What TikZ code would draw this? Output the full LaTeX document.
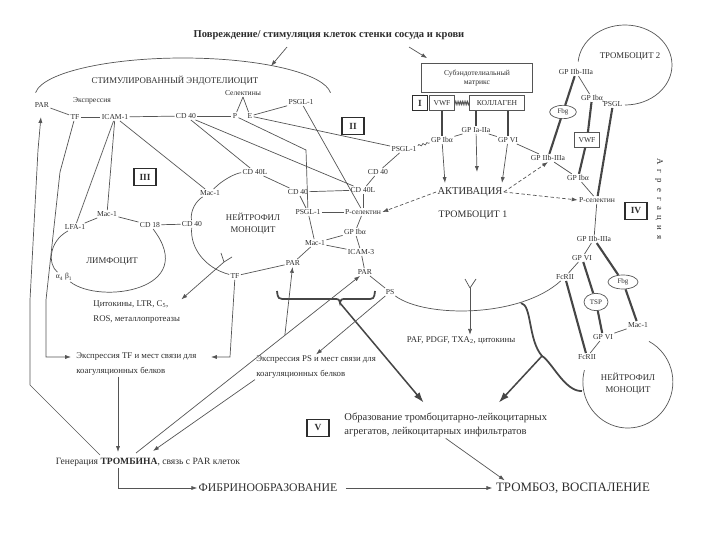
\documentclass[tikz,border=0pt]{standalone}
\usepackage{fontspec}
\setmainfont{Liberation Serif}
\usetikzlibrary{arrows.meta,positioning,shapes.geometric,calc,decorations.pathmorphing}
\definecolor{scink}{RGB}{45,45,45}
\definecolor{scline}{RGB}{85,85,85}
\definecolor{scbar}{RGB}{70,70,70}

\begin{document}
\begin{tikzpicture}[x=0.03cm, y=-0.03cm,
    lbl/.style={inner sep=1pt, text=scink, font=\fontsize{6.5}{7.5}\selectfont},
    note/.style={inner sep=1pt, text=scink, anchor=west, align=left, font=\fontsize{7.5}{12.5}\selectfont},
    cellname/.style={inner sep=1pt, text=scink, align=center, font=\fontsize{7.5}{10}\selectfont},
    result/.style={inner sep=1pt, text=scink, font=\fontsize{10}{12}\selectfont},
    stage/.style={rectangle, draw=scink, line width=1.2pt, minimum width=0.66cm, minimum height=0.52cm,
                  inner sep=0pt, text=scink, font=\fontsize{8}{8}\selectfont\bfseries},
    tagbox/.style={rectangle, draw=scline, semithick, inner sep=1.5pt, text=scink, font=\fontsize{6.5}{7.5}\selectfont},
    oval/.style={ellipse, draw=scline, semithick, inner sep=0pt, text=scink, font=\fontsize{6}{6}\selectfont},
    ln/.style={draw=scline, semithick},
    arr/.style={ln, -{Latex[length=5pt,width=3.5pt]}},
    dotarr/.style={ln, densely dashed, -{Latex[length=5pt,width=3.5pt]}},
    bridge/.style={draw=scbar, line width=1.8pt},
    bracket/.style={draw=scbar, line width=1.5pt},
    thickarr/.style={draw=scbar, line width=1.3pt, -{Latex[length=9pt,width=6pt]}},
    wave/.style={ln, decorate, decoration={snake, amplitude=0.8pt, segment length=3.5pt}}
  ]
    \useasboundingbox (0,0) rectangle (720,540);

    % Damage
    \node[inner sep=1pt, text=scink, font=\fontsize{9}{10}\selectfont\bfseries] (dmg) at (329,35)
         {Повреждение/ стимуляция клеток стенки сосуда и крови};

    % Endothelium
    \draw[ln] (35.6,92.7) arc[start angle=185, end angle=355, x radius=148, y radius=38];
    \coordinate (endotop) at (271,66);
    \node[cellname] (endo)  at (175,81)  {СТИМУЛИРОВАННЫЙ ЭНДОТЕЛИОЦИТ};
    \node[lbl]      (expr)  at (92,101)  {Экспрессия};
    \node[lbl]      (ePAR)  at (42,105)  {PAR};
    \node[lbl]      (eTF)   at (75,117)  {TF};
    \node[lbl]      (eICAM) at (115,117) {ICAM-1};
    \node[lbl]      (eCD40) at (186,116) {CD 40};
    \node[lbl]      (sel)   at (243,93)  {Селектины};
    \node[lbl]      (eP)    at (235,116) {P};
    \node[lbl]      (eE)    at (250,116) {E};
    \node[lbl]      (ePSGL) at (301,102) {PSGL-1};
    \node[stage]    (stII)  at (353,126) {II};

    % Lymphocyte
    \node[lbl]      (lLFA)  at (75,227)  {LFA-1};
    \node[lbl]      (lMac)  at (107,214) {Mac-1};
    \node[lbl]      (lCD18) at (150,225) {CD 18};
    \node[lbl]      (lAB)   at (64,277)  {α\textsubscript{4} β\textsubscript{1}};
    \node[cellname] (lym)   at (112,262) {ЛИМФОЦИТ};
    \node[stage]    (stIII) at (145,177) {III};

    % Neutrophil / monocyte
    \node[cellname] (neu)    at (253,224) {НЕЙТРОФИЛ\\МОНОЦИТ};
    \node[lbl]      (nMacA)  at (210,193) {Mac-1};
    \node[lbl]      (nCD40L) at (255,172) {CD 40L};
    \node[lbl]      (nCD40)  at (298,192) {CD 40};
    \node[lbl]      (nPSGL)  at (308,212) {PSGL-1};
    \node[lbl]      (nMacB)  at (315,243) {Mac-1};
    \node[lbl]      (nPAR)   at (293,263) {PAR};
    \node[lbl]      (nTF)    at (235,276) {TF};
    \node[lbl]      (nCD40w) at (192,224) {CD 40};
    \coordinate     (nY)     at (224,262);

    % Platelet 1
    \node[cellname, font=\fontsize{9}{10}\selectfont]   (act)  at (470,192) {АКТИВАЦИЯ};
    \node[cellname, font=\fontsize{8.5}{10}\selectfont] (plt1) at (473,215) {ТРОМБОЦИТ 1};
    \node[lbl] (pPSGL)  at (404,149) {PSGL-1};
    \node[lbl] (pCD40)  at (378,172) {CD 40};
    \node[lbl] (pCD40L) at (363,190) {CD 40L};
    \node[lbl] (pPsel)  at (363,212) {P-селектин};
    \node[lbl] (pGPIb)  at (355,232) {GP Ibα};
    \node[lbl] (pICAM)  at (361,252) {ICAM-3};
    \node[lbl] (pPAR)   at (365,272) {PAR};
    \node[lbl] (pPS)    at (390,292) {PS};
    \node[lbl] (pGPIbT) at (442,140) {GP Ibα};
    \node[lbl] (pGPIa)  at (476,130) {GP Ia-IIa};
    \node[lbl] (pGPVI)  at (508,140) {GP VI};
    \node[lbl] (pIIbT)  at (548,158) {GP IIb-IIIa};
    \node[lbl] (pGPIbR) at (578,178) {GP Ibα};
    \node[lbl] (pPselR) at (597,200) {P-селектин};
    \node[lbl] (pIIbB)  at (594,239) {GP IIb-IIIa};
    \node[lbl] (pGPVIR) at (582,258) {GP VI};
    \node[lbl] (pFcR)   at (565,277) {FcRII};
    \coordinate (pY) at (470,288);
    \node[stage] (stIV) at (636,211) {IV};
    \node[lbl, rotate=-90, font=\fontsize{7.5}{8}\selectfont] (aggr) at (659,199)
         {\addfontfeatures{LetterSpace=60}Агрегация};

    % Subendothelial matrix
    \node[tagbox, minimum width=3.33cm, minimum height=0.87cm, align=center] (matrix) at (477,78)
         {Субэндотелиальный\\матрикс};
    \node[stage, minimum width=0.45cm, minimum height=0.45cm] (stI) at (420,103) {I};
    \node[tagbox, minimum width=0.75cm, minimum height=0.45cm] (vwf)  at (442,103) {VWF};
    \node[tagbox, minimum width=1.65cm, minimum height=0.45cm] (coll) at (497,103) {КОЛЛАГЕН};

    % Platelet 2
    \draw[ln] (625,105) arc[start angle=90, end angle=-175, x radius=47, y radius=40];
    \node[cellname] (plt2)  at (630,57)  {ТРОМБОЦИТ 2};
    \node[lbl]      (qIIb)  at (576,72)  {GP IIb-IIIa};
    \node[lbl]      (qGPIb) at (592,98)  {GP Ibα};
    \node[lbl]      (qPSGL) at (613,104) {PSGL};
    \node[oval, minimum width=0.8cm, minimum height=0.4cm]     (fbgA) at (563,112) {Fbg};
    \node[tagbox, minimum width=0.75cm, minimum height=0.45cm] (vwfB) at (587,140) {VWF};

    % Neutrophil / monocyte 2
    \draw[ln] (649,341.4) arc[start angle=-62, end angle=195, x radius=45, y radius=46];
    \node[cellname] (neuB)  at (628,384) {НЕЙТРОФИЛ\\МОНОЦИТ};
    \node[lbl]      (mMac)  at (638,325) {Mac-1};
    \node[lbl]      (mGPVI) at (603,337) {GP VI};
    \node[lbl]      (mFcR)  at (587,357) {FcRII};
    \node[oval, minimum width=0.9cm, minimum height=0.42cm]  (fbgB) at (623,282) {Fbg};
    \node[oval, minimum width=0.72cm, minimum height=0.52cm] (tsp)  at (596,302) {TSP};

    % Outcomes
    \node[note] (cyto) at (92,312)  {Цитокины, LTR, C\textsubscript{5},\\ROS, металлопротеазы};
    \node[note] (exTF) at (75,364)  {Экспрессия TF и мест связи для\\коагуляционных белков};
    \node[note] (exPS) at (255,367) {Экспрессия PS и мест связи для\\коагуляционных белков};
    \node[lbl, font=\fontsize{7.5}{8}\selectfont] (paf) at (461,340) {PAF, PDGF, TXA\textsubscript{2}, цитокины};
    \node[stage] (stV) at (318,428) {V};
    \node[note, font=\fontsize{9}{12}\selectfont] (form) at (343,425)
         {Образование тромбоцитарно-лейкоцитарных\\агрегатов, лейкоцитарных инфильтратов};
    \node[lbl, font=\fontsize{8.2}{9}\selectfont] (thr) at (148,462) {Генерация \textbf{ТРОМБИНА}, связь с PAR клеток};
    \node[result] (fib)   at (268,488) {ФИБРИНООБРАЗОВАНИЕ};
    \node[result, font=\fontsize{11}{12}\selectfont] (tromb) at (573,488) {ТРОМБОЗ, ВОСПАЛЕНИЕ};
    \coordinate (thrL) at (100,455);
    \coordinate (thrM) at (118,452);
    \coordinate (thrA) at (136,453);
    \coordinate (thrC) at (153,451);
    \coordinate (tfL)  at (71,357);
    \coordinate (tfR)  at (211,357);

    % Damage arrows
    \draw[arr] ($(dmg.south)+(-42,6)$) -- (endotop);
    \draw[arr] ($(dmg.south)+(80,6)$) -- ($(matrix.north west)+(6,-5)$);

    % Endothelium links
    \draw[ln] (ePAR) -- (eTF);
    \draw[ln] (eTF) -- (eICAM);
    \draw[ln] (eICAM) -- (eCD40);
    \draw[ln] (eCD40) -- (eP);
    \draw[ln] (sel.south) -- (eP);
    \draw[ln] (sel.south) -- (eE);
    \draw[ln] (eE) -- (ePSGL);
    \draw[ln] (eICAM) -- (lLFA);
    \draw[ln] (eICAM) -- (lMac);
    \draw[ln] (eICAM) -- (nMacA);
    \draw[ln] (eCD40) -- (nCD40L);
    \draw[ln] (eCD40) -- (pCD40L);
    \draw[ln] (eP) -- (306,150) -- (nPSGL);
    \draw[ln] (eE) -- (pPSGL);
    \draw[ln] (ePSGL) -- (pPsel);

    % Lymphocyte ring
    \draw[ln] (lLFA) -- (lMac);
    \draw[ln] (lMac) -- (lCD18);
    \draw[ln] (lCD18) -- (nCD40w);
    \draw[ln] (lLFA) .. controls (48,242) and (48,265) .. (lAB);
    \draw[ln] (lAB) .. controls (100,305) and (200,290) .. (lCD18);

    % Neutrophil ring
    \draw[ln] (nMacA) .. controls (222,180) and (236,173) .. (nCD40L);
    \draw[ln] (nCD40L) -- (nCD40);
    \draw[ln] (nCD40) -- (nPSGL);
    \draw[ln] (nPSGL) -- (nMacB);
    \draw[ln] (nMacB) -- (nPAR);
    \draw[ln] (nTF) -- (nPAR);
    \draw[ln] (nTF) .. controls (205,268) and (190,248) .. (nCD40w);
    \draw[ln] (nCD40w) .. controls (190,210) and (197,200) .. (nMacA);
    \draw[ln] (nY) -- (221,253) (nY) -- (232,257);
    \draw[arr] (nY) -- (cyto.north east);

    % Platelet 1 ring
    \draw[wave] (pPSGL) -- (pGPIbT);
    \draw[ln] (pPSGL) -- (pCD40);
    \draw[ln] (pCD40) -- (pCD40L);
    \draw[ln] (pCD40L) -- (pPsel);
    \draw[ln] (pPsel) -- (pGPIb);
    \draw[ln] (pGPIb) -- (pICAM);
    \draw[ln] (pICAM) -- (pPAR);
    \draw[ln] (pPAR) -- (pPS);
    \draw[ln] (pGPIbT) -- (pGPIa);
    \draw[ln] (pGPIa) -- (pGPVI);
    \draw[ln] (pGPVI) -- (pIIbT);
    \draw[ln] (pIIbT) -- (pGPIbR);
    \draw[ln] (pGPIbR) -- (pPselR);
    \draw[ln] (pPselR) -- (pIIbB);
    \draw[ln] (pIIbB) -- (pGPVIR);
    \draw[ln] (pGPVIR) -- (pFcR);
    \draw[ln] (pPS) .. controls (425,318) and (520,318) .. (pFcR);
    \draw[ln] (pY) -- (465,279) (pY) -- (476,279);
    \draw[arr] (pY) -- (pY |- paf.north);

    % Neutrophil - platelet contacts
    \draw[ln] (nCD40) -- (pCD40L);
    \draw[ln] (nPSGL) -- (pPsel);
    \draw[ln] (nMacB) -- (pGPIb);
    \draw[ln] (nMacB) -- (pICAM);

    % Matrix to platelet
    \draw[ln, decorate, decoration={zigzag, amplitude=1.5pt, segment length=1.5pt}] (vwf) -- (coll);
    \draw[bridge] (vwf) -- (pGPIbT);
    \draw[bridge] (coll.south -| pGPIa) -- (pGPIa);
    \draw[bridge] (coll.south -| pGPVI) -- (pGPVI);
    \draw[arr] (pGPIbT) -- ($(act.north)+(-25,-3)$);
    \draw[arr] (pGPIa) -- ($(act.north)+(7,-14)$);
    \draw[arr] (pGPVI) -- ($(act.north)+(32,-3)$);
    \draw[dotarr] (act.west) -- (pPsel.east);
    \draw[dotarr] (act.east) -- (pIIbT.south);
    \draw[dotarr] (act.east) -- (pPselR.west);

    % Aggregation
    \draw[ln] (qIIb) -- (qGPIb);
    \draw[wave] (qGPIb) -- (qPSGL);
    \draw[bridge] (qIIb) -- (fbgA);
    \draw[bridge] (fbgA) -- (pIIbT);
    \draw[bridge] (qGPIb) -- (vwfB);
    \draw[bridge] (vwfB) -- (pGPIbR);
    \draw[bridge] (qPSGL) -- (pPselR);
    \draw[bridge] (pIIbB) -- (fbgB);
    \draw[bridge] (fbgB) -- (mMac);
    \draw[bridge] (pGPVIR) -- (tsp);
    \draw[bridge] (tsp) -- (mGPVI);
    \draw[bridge] (pFcR) -- (mFcR);
    \draw[ln] (mGPVI) -- (mMac);
    \draw[ln] (mGPVI) -- (mFcR);

    % Brackets
    \draw[bracket] (277,291) .. controls (278,299) .. (287,299) -- (333,299)
                   .. controls (339,299) .. (340,303) .. controls (341,299) .. (347,299) -- (366,299)
                   .. controls (374,299) .. (375,291);
    \coordinate (brL) at (340,303);
    \draw[thickarr] (brL) -- ($(form.north)+(-22,-9)$);
    \draw[bracket] (521,303) .. controls (532,305) and (528,340) .. (542,356)
                   .. controls (552,362) and (565,392) .. (582,391);
    \coordinate (brR) at (542,356);
    \draw[thickarr] (brR) -- ($(form.north)+(53,-9)$);

    % Coagulation
    \draw[arr, shorten >=7pt] (thrL) -- (30,385) -- (30,300) -- (38,150) -- (ePAR);
    \draw[arr] (eTF) -- (60,172) -- (46,300) -- (46,357) -- (tfL);
    \draw[arr] (nTF) -- (230,357) -- (tfR);
    \draw[arr] (exTF.south -| thrM) -- (thrM);
    \draw[arr] (thrA) -- (pPAR);
    \draw[arr] ($(thrA)!0.65!(pPAR)$) -- (nPAR);
    \draw[arr] (pPS) -- (exPS.north);
    \draw[arr] (exPS.south west) -- (thrC);
    \draw[arr] (thr.south -| thrM) |- (fib.west);
    \draw[arr, shorten <=6pt, shorten >=2pt] (fib.east) -- (tromb.west);
    \draw[arr] (form.south) -- ($(tromb.north west)+(10,-1)$);
  \end{tikzpicture}
\end{document}
